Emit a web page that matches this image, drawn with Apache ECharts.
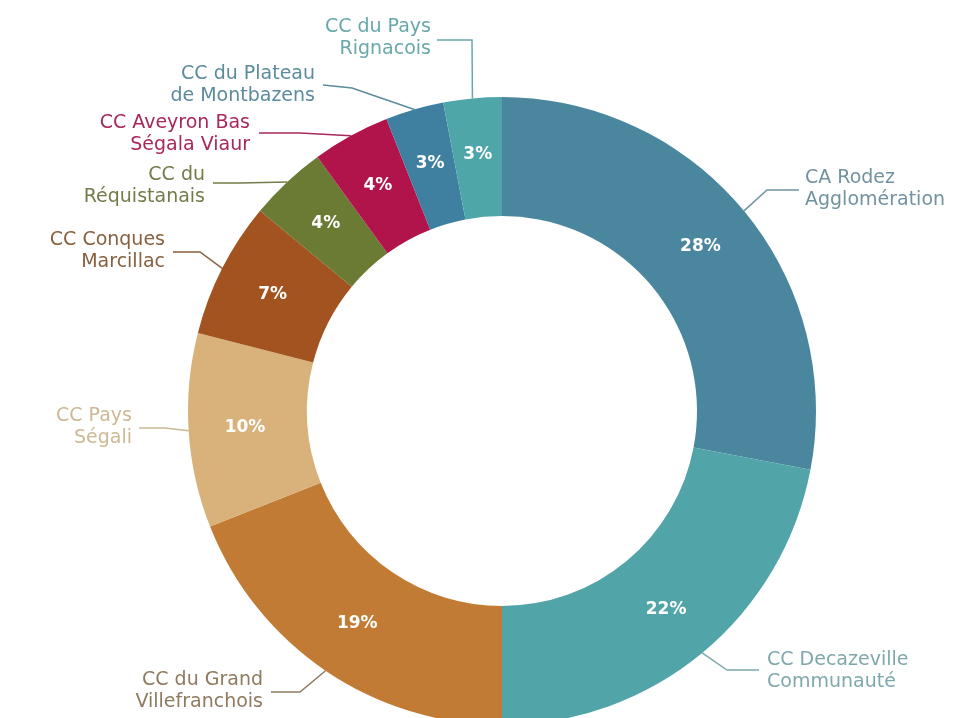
<!DOCTYPE html>
<html>
<head>
<meta charset="utf-8">
<script src="https://cdn.jsdelivr.net/npm/echarts@6/dist/echarts.min.js"></script>
<style>
html,body{margin:0;padding:0;background:#fff;}
#chart{width:962px;height:718px;}
</style>
</head>
<body>
<div id="chart"></div>
<script>
// ---- data ----
var categories = [
  "CA Rodez\nAgglomération",
  "CC Decazeville\nCommunauté",
  "CC du Grand\nVillefranchois",
  "CC Pays\nSégali",
  "CC Conques\nMarcillac",
  "CC du\nRéquistanais",
  "CC Aveyron Bas\nSégala Viaur",
  "CC du Plateau\nde Montbazens",
  "CC du Pays\nRignacois"
];
var shares = [28, 22, 19, 10, 7, 4, 4, 3, 3];

// ---- styles ----
var sliceColors = ["#4a879f", "#51a4a8", "#c27b34", "#d9b27b", "#a2531f", "#6b7b34", "#b1134b", "#3f80a0", "#4fa6a9"];
var labelColors = ["#7292a0", "#7fa8ac", "#8f7a5f", "#cdb894", "#88603f", "#747b4a", "#a8285c", "#5b8b9d", "#68a8ab"];
// label anchor: [x, y, align, elbowX, elbowY, endX, endY]
var labelPlaces = [
  [805, 189, "left", 767, 190, 799, 190],
  [767, 671, "left", 727, 670, 759, 670],
  [263, 691, "right", 300, 692, 271, 692],
  [132, 427, "right", 165, 428, 139, 428],
  [165, 251, "right", 200, 252, 173, 252],
  [205, 186, "right", 240, 183, 213, 183],
  [250, 134, "right", 300, 133, 259, 133],
  [315, 85, "right", 352, 88, 323, 85],
  [431, 38, "right", 472, 40, 437, 40]
];

var data = categories.map(function (c, i) {
  return {
    name: c, value: shares[i],
    itemStyle: { color: sliceColors[i] },
    label: { color: labelColors[i] },
    labelLine: { lineStyle: { color: labelColors[i] } }
  };
});
var dataInner = categories.map(function (c, i) {
  return { name: c, value: shares[i] };
});

var center = [502, 411];
var radius = [195, 314];

var chart = echarts.init(document.getElementById('chart'), null, { renderer: 'canvas' });
chart.setOption({
  backgroundColor: '#ffffff',
  animation: false,
  series: [
    {
      type: 'pie',
      center: center,
      radius: radius,
      startAngle: 90,
      clockwise: true,
      avoidLabelOverlap: false,
      silent: true,
      data: data,
      label: {
        show: true,
        position: 'outside',
        formatter: '{b}',
        fontFamily: 'DejaVu Sans',
        fontSize: 19,
        lineHeight: 22
      },
      labelLine: {
        show: true,
        length: 20,
        length2: 20,
        lineStyle: { width: 1.5 }
      },
      labelLayout: function (params) {
        var p = labelPlaces[params.dataIndex];
        var pts = params.labelLinePoints;
        var p0 = pts && pts[0] ? pts[0] : [p[3], p[4]];
        return {
          x: p[0],
          y: p[1],
          align: p[2],
          verticalAlign: 'middle',
          labelLinePoints: [p0, [p[3], p[4]], [p[5], p[6]]]
        };
      }
    },
    {
      type: 'pie',
      center: center,
      radius: radius,
      startAngle: 90,
      clockwise: true,
      silent: true,
      data: dataInner,
      itemStyle: { color: 'rgba(0,0,0,0)' },
      label: {
        show: true,
        position: 'inside',
        formatter: function (p) { return p.value + '%'; },
        color: '#ffffff',
        fontFamily: 'DejaVu Sans',
        fontWeight: 'bold',
        fontSize: 17
      },
      labelLine: { show: false }
    }
  ]
});
</script>
</body>
</html>
